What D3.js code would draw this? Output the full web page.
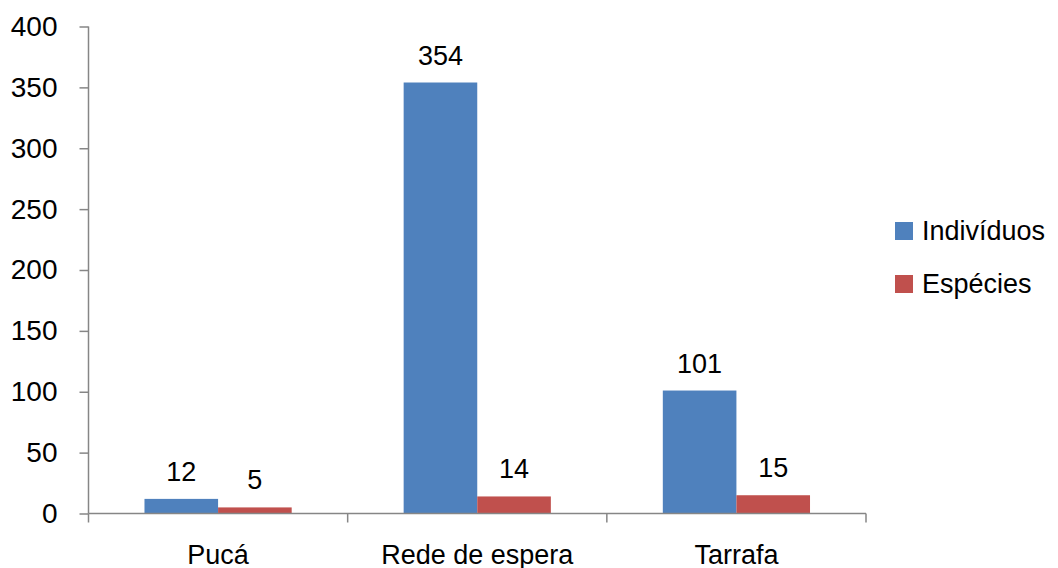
<!DOCTYPE html>
<html><head><meta charset="utf-8">
<script src="https://cdn.jsdelivr.net/npm/d3@7"></script>
<style>body{margin:0;background:#fff}svg{display:block}text{font-family:"Liberation Sans",Arial,sans-serif;fill:#000}</style>
</head><body>
<script>
const categories = ["Pucá", "Rede de espera", "Tarrafa"];
const seriesNames = ["Indivíduos", "Espécies"];
const individuos = [12, 354, 101];
const especies = [5, 14, 15];
const yTicks = [0, 50, 100, 150, 200, 250, 300, 350, 400];
const colors = ["#4F81BD", "#C0504D"];

const W = 1058, H = 568;
const svg = d3.select("body").append("svg").attr("width", W).attr("height", H);
const x = d3.scaleBand().domain(categories).range([88.5, 866]).paddingInner(0).paddingOuter(0);
const xs = d3.scaleBand().domain(seriesNames).range([x.bandwidth()*0.216, x.bandwidth()*0.784]);
const y = d3.scaleLinear().domain([0, 400]).range([513.5, 26.5]);
const axisColor = "#868686";

// y axis
const ya = svg.append("g").attr("transform", "translate(88.5,0)")
  .call(d3.axisLeft(y).tickValues(yTicks).tickSize(9).tickPadding(22));
ya.selectAll("path,line").attr("stroke", axisColor).attr("stroke-width", 1.5);
ya.select(".domain").attr("d", `M0,${y(400)}V${y(0)}`);
ya.selectAll("text").attr("font-size", 28).attr("font-family", "Liberation Sans, Arial, sans-serif").attr("fill", "#000");

const data = categories.map((c, i) => ({cat: c, vals: [individuos[i], especies[i]]}));
const g = svg.append("g");
data.forEach(d => {
  d.vals.forEach((v, j) => {
    const bx = x(d.cat) + xs(seriesNames[j]);
    g.append("rect").attr("x", bx).attr("y", y(v)).attr("width", xs.bandwidth())
      .attr("height", y(0) - y(v)).attr("fill", colors[j]);
    g.append("text").attr("x", bx + xs.bandwidth()/2).attr("y", y(v) - 18)
      .attr("text-anchor", "middle").attr("font-size", 27).text(v);
  });
});

// x axis
const xa = svg.append("g").attr("transform", `translate(0,${y(0)})`);
xa.append("path").attr("d", `M88.5,0H866`).attr("stroke", axisColor).attr("stroke-width", 1.5).attr("fill", "none");
const bounds = categories.map(c => x(c)).concat([x(categories[categories.length-1]) + x.bandwidth()]);
bounds.forEach(b => xa.append("line").attr("x1", b).attr("x2", b).attr("y1", 0).attr("y2", 9)
  .attr("stroke", axisColor).attr("stroke-width", 1.5));
categories.forEach(c => xa.append("text").attr("x", x(c) + x.bandwidth()/2).attr("y", 50)
  .attr("text-anchor", "middle").attr("font-size", 27).text(c));

// legend
const lg = svg.append("g");
seriesNames.forEach((s, i) => {
  const ly = 222 + i * 53;
  lg.append("rect").attr("x", 895).attr("y", ly).attr("width", 18).attr("height", 18).attr("fill", colors[i]);
  lg.append("text").attr("x", 922).attr("y", ly + 18).attr("font-size", 27).text(s);
});
</script>
</body></html>
